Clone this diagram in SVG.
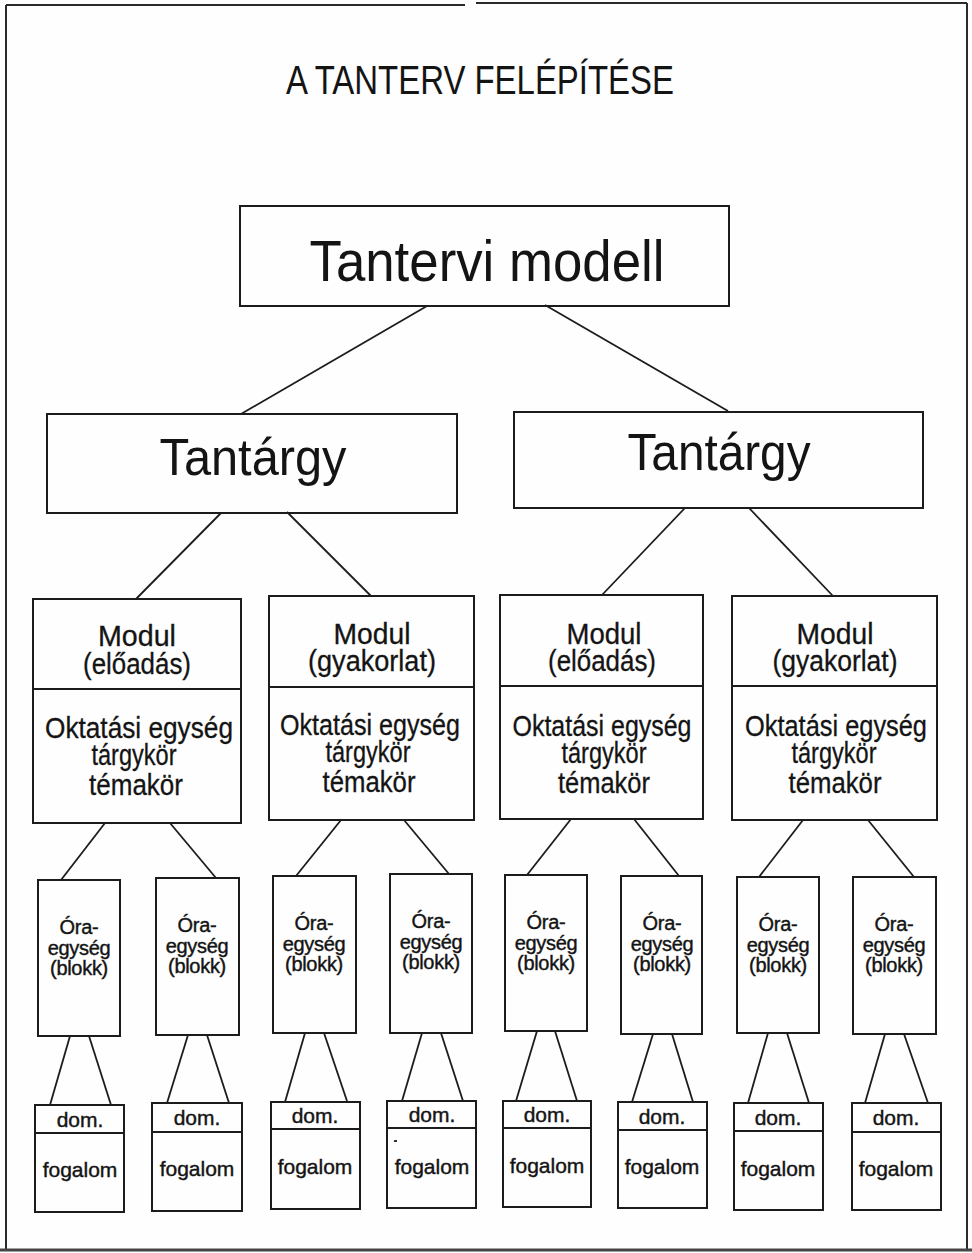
<svg xmlns="http://www.w3.org/2000/svg" width="972" height="1253" viewBox="0 0 972 1253">
  <style>
    .bg { fill: #fefefe; }
    .frame { stroke: #2a2a2a; stroke-width: 2; fill: none; }
    .box { fill: none; stroke: #1c1c1c; stroke-width: 2; }
    .sep { stroke: #1c1c1c; stroke-width: 2; }
    #connectors line { stroke: #1c1c1c; stroke-width: 1.8; }
    text { font-family: "Liberation Sans", Arial, sans-serif; fill: #141414; text-anchor: middle; }
    .title { font-size: 40px; }
    .big { font-size: 57px; }
    .mid { font-size: 52px; }
    .mod { font-size: 29px; stroke: #141414; stroke-width: 0.3; }
    .ora { font-size: 20px; letter-spacing: -0.3px; stroke: #141414; stroke-width: 0.4; }
    .leaf { font-size: 21px; stroke: #141414; stroke-width: 0.4; }
  </style>

  <rect class="bg" x="0" y="0" width="972" height="1253"/>

  <!-- page frame -->
  <g id="frame">
    <line class="frame" x1="6" y1="5" x2="465" y2="5"/>
    <line class="frame" x1="476" y1="3" x2="967" y2="3"/>
    <line class="frame" x1="6" y1="5" x2="6" y2="1249"/>
    <line class="frame" x1="967" y1="3" x2="967" y2="1249"/>
    <line x1="0" y1="1250" x2="972" y2="1250" stroke="#444" stroke-width="3"/>
  </g>

  <text id="title" class="title" x="480" y="94" textLength="388" lengthAdjust="spacingAndGlyphs">A TANTERV FELÉPÍTÉSE</text>

  <!-- connectors -->
  <g id="connectors">
    <line x1="427" y1="306" x2="241" y2="414"/>
    <line x1="545" y1="305" x2="728" y2="411"/>

    <line x1="221" y1="513" x2="136" y2="599"/>
    <line x1="287" y1="512" x2="371" y2="596"/>
    <line x1="685" y1="508" x2="602" y2="595"/>
    <line x1="749" y1="508" x2="833" y2="596"/>

    <line x1="105" y1="823" x2="61" y2="880"/>
    <line x1="170" y1="823" x2="216" y2="878"/>
    <line x1="341" y1="820" x2="296" y2="876"/>
    <line x1="404" y1="820" x2="449" y2="874"/>
    <line x1="571" y1="819" x2="527" y2="875"/>
    <line x1="634" y1="819" x2="679" y2="876"/>
    <line x1="803" y1="820" x2="759" y2="877"/>
    <line x1="868" y1="820" x2="914" y2="877"/>

    <line x1="70" y1="1036" x2="50" y2="1105"/>
    <line x1="89" y1="1036" x2="111" y2="1105"/>
    <line x1="188" y1="1035" x2="167" y2="1103"/>
    <line x1="207" y1="1035" x2="229" y2="1103"/>
    <line x1="305" y1="1033" x2="285" y2="1102"/>
    <line x1="324" y1="1033" x2="347" y2="1101"/>
    <line x1="422" y1="1033" x2="402" y2="1101"/>
    <line x1="441" y1="1033" x2="463" y2="1101"/>
    <line x1="537" y1="1031" x2="516" y2="1101"/>
    <line x1="555" y1="1031" x2="577" y2="1101"/>
    <line x1="653" y1="1034" x2="632" y2="1102"/>
    <line x1="672" y1="1034" x2="693" y2="1102"/>
    <line x1="768" y1="1033" x2="748" y2="1103"/>
    <line x1="787" y1="1033" x2="809" y2="1103"/>
    <line x1="885" y1="1034" x2="865" y2="1103"/>
    <line x1="904" y1="1034" x2="928" y2="1103"/>
  </g>

  <!-- root -->
  <g id="tantervi-modell">
    <rect class="box" x="240" y="206" width="489" height="100"/>
    <text class="big" x="487" y="281" textLength="355" lengthAdjust="spacingAndGlyphs">Tantervi modell</text>
  </g>

  <!-- subjects -->
  <g id="tantargy-1">
    <rect class="box" x="47" y="414" width="410" height="99"/>
    <text class="mid" x="253" y="475" textLength="187" lengthAdjust="spacingAndGlyphs">Tantárgy</text>
  </g>
  <g id="tantargy-2">
    <rect class="box" x="514" y="412" width="409" height="96"/>
    <text class="mid" x="719" y="470" textLength="183" lengthAdjust="spacingAndGlyphs">Tantárgy</text>
  </g>

  <!-- modules -->
  <g id="modul-1">
    <rect class="box" x="33" y="599" width="208" height="224"/>
    <line class="sep" x1="33" y1="689" x2="241" y2="689"/>
    <text class="mod" x="137" y="646" textLength="78" lengthAdjust="spacingAndGlyphs">Modul</text>
    <text class="mod" x="137" y="674" textLength="108" lengthAdjust="spacingAndGlyphs">(előadás)</text>
    <text class="mod" x="139" y="738" textLength="188" lengthAdjust="spacingAndGlyphs">Oktatási egység</text>
    <text class="mod" x="134" y="765" textLength="85" lengthAdjust="spacingAndGlyphs">tárgykör</text>
    <text class="mod" x="136" y="795" textLength="94" lengthAdjust="spacingAndGlyphs">témakör</text>
  </g>
  <g id="modul-2">
    <rect class="box" x="269" y="596" width="205" height="224"/>
    <line class="sep" x1="269" y1="687" x2="474" y2="687"/>
    <text class="mod" x="372" y="644" textLength="77" lengthAdjust="spacingAndGlyphs">Modul</text>
    <text class="mod" x="372" y="671" textLength="128" lengthAdjust="spacingAndGlyphs">(gyakorlat)</text>
    <text class="mod" x="370" y="735" textLength="180" lengthAdjust="spacingAndGlyphs">Oktatási egység</text>
    <text class="mod" x="368" y="762" textLength="85" lengthAdjust="spacingAndGlyphs">tárgykör</text>
    <text class="mod" x="369" y="792" textLength="93" lengthAdjust="spacingAndGlyphs">témakör</text>
  </g>
  <g id="modul-3">
    <rect class="box" x="500" y="595" width="203" height="224"/>
    <line class="sep" x1="500" y1="686" x2="703" y2="686"/>
    <text class="mod" x="604" y="644" textLength="75" lengthAdjust="spacingAndGlyphs">Modul</text>
    <text class="mod" x="602" y="671" textLength="108" lengthAdjust="spacingAndGlyphs">(előadás)</text>
    <text class="mod" x="602" y="736" textLength="179" lengthAdjust="spacingAndGlyphs">Oktatási egység</text>
    <text class="mod" x="604" y="763" textLength="85" lengthAdjust="spacingAndGlyphs">tárgykör</text>
    <text class="mod" x="604" y="793" textLength="92" lengthAdjust="spacingAndGlyphs">témakör</text>
  </g>
  <g id="modul-4">
    <rect class="box" x="732" y="596" width="205" height="224"/>
    <line class="sep" x1="732" y1="686" x2="937" y2="686"/>
    <text class="mod" x="835" y="644" textLength="77" lengthAdjust="spacingAndGlyphs">Modul</text>
    <text class="mod" x="835" y="671" textLength="125" lengthAdjust="spacingAndGlyphs">(gyakorlat)</text>
    <text class="mod" x="836" y="736" textLength="182" lengthAdjust="spacingAndGlyphs">Oktatási egység</text>
    <text class="mod" x="834" y="763" textLength="85" lengthAdjust="spacingAndGlyphs">tárgykör</text>
    <text class="mod" x="835" y="793" textLength="93" lengthAdjust="spacingAndGlyphs">témakör</text>
  </g>

  <!-- lesson units -->
  <g id="oraegyseg-1">
    <rect class="box" x="38" y="880" width="82" height="156"/>
    <text class="ora" x="79" y="934">Óra-</text>
    <text class="ora" x="79" y="955">egység</text>
    <text class="ora" x="79" y="975">(blokk)</text>
  </g>
  <g id="oraegyseg-2">
    <rect class="box" x="156" y="878" width="83" height="157"/>
    <text class="ora" x="197" y="932">Óra-</text>
    <text class="ora" x="197" y="953">egység</text>
    <text class="ora" x="197" y="973">(blokk)</text>
  </g>
  <g id="oraegyseg-3">
    <rect class="box" x="273" y="876" width="83" height="157"/>
    <text class="ora" x="314" y="930">Óra-</text>
    <text class="ora" x="314" y="951">egység</text>
    <text class="ora" x="314" y="971">(blokk)</text>
  </g>
  <g id="oraegyseg-4">
    <rect class="box" x="390" y="874" width="82" height="159"/>
    <text class="ora" x="431" y="928">Óra-</text>
    <text class="ora" x="431" y="949">egység</text>
    <text class="ora" x="431" y="969">(blokk)</text>
  </g>
  <g id="oraegyseg-5">
    <rect class="box" x="505" y="875" width="82" height="156"/>
    <text class="ora" x="546" y="929">Óra-</text>
    <text class="ora" x="546" y="950">egység</text>
    <text class="ora" x="546" y="970">(blokk)</text>
  </g>
  <g id="oraegyseg-6">
    <rect class="box" x="621" y="876" width="81" height="158"/>
    <text class="ora" x="662" y="930">Óra-</text>
    <text class="ora" x="662" y="951">egység</text>
    <text class="ora" x="662" y="971">(blokk)</text>
  </g>
  <g id="oraegyseg-7">
    <rect class="box" x="737" y="877" width="82" height="156"/>
    <text class="ora" x="778" y="931">Óra-</text>
    <text class="ora" x="778" y="952">egység</text>
    <text class="ora" x="778" y="972">(blokk)</text>
  </g>
  <g id="oraegyseg-8">
    <rect class="box" x="853" y="877" width="83" height="157"/>
    <text class="ora" x="894" y="931">Óra-</text>
    <text class="ora" x="894" y="952">egység</text>
    <text class="ora" x="894" y="972">(blokk)</text>
  </g>

  <!-- concept leaves -->
  <g id="fogalom-1">
    <rect class="box" x="35" y="1105" width="89" height="107"/>
    <line class="sep" x1="35" y1="1133" x2="124" y2="1133"/>
    <text class="leaf" x="80" y="1127">dom.</text>
    <text class="leaf" x="80" y="1177">fogalom</text>
  </g>
  <g id="fogalom-2">
    <rect class="box" x="152" y="1103" width="90" height="108"/>
    <line class="sep" x1="152" y1="1132" x2="242" y2="1132"/>
    <text class="leaf" x="197" y="1125">dom.</text>
    <text class="leaf" x="197" y="1176">fogalom</text>
  </g>
  <g id="fogalom-3">
    <rect class="box" x="271" y="1102" width="89" height="107"/>
    <line class="sep" x1="271" y1="1129" x2="360" y2="1129"/>
    <text class="leaf" x="315" y="1123">dom.</text>
    <text class="leaf" x="315" y="1174">fogalom</text>
  </g>
  <g id="fogalom-4">
    <rect class="box" x="387" y="1101" width="89" height="107"/>
    <line class="sep" x1="387" y1="1128" x2="476" y2="1128"/>
    <rect x="394" y="1140" width="3" height="2" fill="#333"/>
    <text class="leaf" x="432" y="1122">dom.</text>
    <text class="leaf" x="432" y="1174">fogalom</text>
  </g>
  <g id="fogalom-5">
    <rect class="box" x="503" y="1101" width="88" height="106"/>
    <line class="sep" x1="503" y1="1128" x2="591" y2="1128"/>
    <text class="leaf" x="547" y="1122">dom.</text>
    <text class="leaf" x="547" y="1173">fogalom</text>
  </g>
  <g id="fogalom-6">
    <rect class="box" x="618" y="1102" width="89" height="106"/>
    <line class="sep" x1="618" y1="1130" x2="707" y2="1130"/>
    <text class="leaf" x="662" y="1124">dom.</text>
    <text class="leaf" x="662" y="1174">fogalom</text>
  </g>
  <g id="fogalom-7">
    <rect class="box" x="734" y="1103" width="89" height="107"/>
    <line class="sep" x1="734" y1="1131" x2="823" y2="1131"/>
    <text class="leaf" x="778" y="1125">dom.</text>
    <text class="leaf" x="778" y="1176">fogalom</text>
  </g>
  <g id="fogalom-8">
    <rect class="box" x="852" y="1103" width="89" height="107"/>
    <line class="sep" x1="852" y1="1132" x2="941" y2="1132"/>
    <text class="leaf" x="896" y="1125">dom.</text>
    <text class="leaf" x="896" y="1176">fogalom</text>
  </g>
</svg>
